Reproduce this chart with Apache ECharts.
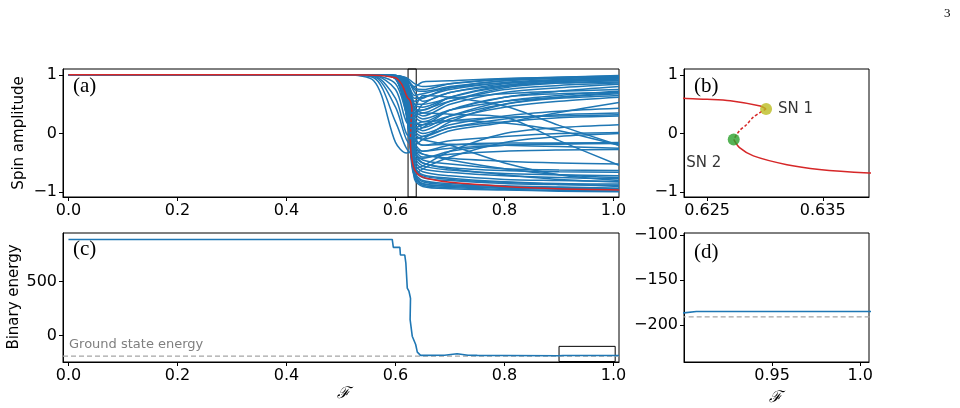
<!DOCTYPE html>
<html lang="en">
<head>
<meta charset="UTF-8">
<title>Spin amplitude / Binary energy</title>
<script src="https://cdn.jsdelivr.net/npm/echarts@6/dist/echarts.min.js"></script>
<style>
  html, body { margin: 0; padding: 0; background: #fff; }
</style>
</head>
<body>
<div id="main" style="width: 960px;height: 408px"></div>
<script>
// sample points (F) shared by every spin curve of panel (a)
var fSpin = [0, 0.5, 0.56, 0.6, 0.62, 0.635, 0.65, 0.7, 0.8, 0.9, 1.01];
// spin amplitude of each spin
var spinCurves = [
    [1,1,1,0.99,0.95,0.85,0.8,0.85,0.92,0.95,0.97],
    [1,1,1,0.99,0.93,0.75,0.72,0.8,0.9,0.94,0.96],
    [1,1,1,0.98,0.9,0.6,0.62,0.75,0.87,0.92,0.95],
    [1,1,1,0.99,0.94,0.7,0.55,0.7,0.85,0.91,0.94],
    [1,1,1,0.98,0.88,0.5,0.45,0.62,0.8,0.88,0.93],
    [1,1,1,0.99,0.92,0.8,0.88,0.9,0.94,0.96,0.98],
    [1,1,1,0.98,0.85,0.45,0.35,0.55,0.78,0.86,0.9],
    [1,1,1,0.99,0.9,0.65,0.68,0.78,0.86,0.89,0.91],
    [1,1,1,0.98,0.87,0.4,0.3,0.5,0.7,0.78,0.84],
    [1,1,1,0.97,0.8,0.3,0.2,0.4,0.62,0.72,0.8],
    [1,1,1,0.98,0.85,0.5,0.5,0.6,0.68,0.72,0.75],
    [1,1,1,0.97,0.78,0.25,0.1,0.3,0.55,0.65,0.72],
    [1,1,1,0.98,0.82,0.35,0.25,0.4,0.55,0.62,0.68],
    [1,1,1,0.97,0.75,0.15,0.05,0.25,0.45,0.55,0.62],
    [1,1,1,0.97,0.7,0.1,0.0,0.15,0.3,0.38,0.43],
    [1,1,1,0.96,0.72,0.05,-0.05,0.1,0.2,0.27,0.3],
    [1,1,1,0.97,0.76,0.2,0.15,0.22,0.28,0.3,0.32],
    [1,1,1,0.97,0.7,0.0,-0.1,0.05,0.19,0.36,0.53],
    [1,1,1,0.96,0.65,-0.05,-0.2,-0.12,-0.05,0.0,0.02],
    [1,1,1,0.97,0.8,0.45,0.65,0.62,0.47,0.14,-0.2],
    [1,1,1,0.97,0.76,0.3,0.35,0.33,0.28,-0.12,-0.54],
    [1,1,1,0.96,0.6,-0.15,-0.3,-0.2,-0.16,-0.16,-0.16],
    [1,1,1,0.96,0.62,-0.1,-0.2,-0.18,-0.2,-0.22,-0.25],
    [1,1,1,0.95,0.55,-0.25,-0.4,-0.35,-0.3,-0.28,-0.27],
    [1,1,1,0.96,0.58,-0.2,-0.35,-0.42,-0.47,-0.5,-0.52],
    [1,1,1,0.95,0.5,-0.4,-0.55,-0.62,-0.68,-0.7,-0.72],
    [1,1,1,0.95,0.45,-0.5,-0.65,-0.72,-0.78,-0.8,-0.82],
    [1,1,1,0.94,0.4,-0.6,-0.75,-0.8,-0.85,-0.87,-0.88],
    [1,1,1,0.95,0.42,-0.65,-0.8,-0.85,-0.89,-0.91,-0.93],
    [1,1,1,0.94,0.35,-0.7,-0.85,-0.9,-0.93,-0.95,-0.96],
    [1,1,1,0.93,0.3,-0.75,-0.88,-0.92,-0.95,-0.97,-0.98],
    [1,1,1,0.95,0.5,-0.45,-0.6,-0.66,-0.72,-0.75,-0.77],
    [1,1,1,0.96,0.55,-0.3,-0.5,-0.58,-0.63,-0.65,-0.66],
    [1,1,1,0.94,0.38,-0.68,-0.82,-0.87,-0.9,-0.92,-0.94],
    [1,1,1,0.95,0.48,-0.55,-0.7,-0.76,-0.82,-0.85,-0.86],
    [1,1,1,0.95,0.45,-0.6,-0.55,-0.3,0.0,0.1,0.15],
    [1,1,1,0.94,0.4,-0.7,-0.6,-0.4,-0.15,-0.05,0.0],
    [1,1,1,0.96,0.6,-0.2,-0.1,0.2,0.5,0.62,0.7],
    [1,1,1,0.97,0.75,0.3,0.5,0.7,0.82,0.86,0.88],
    [1,1,1,0.96,0.65,-0.3,-0.45,-0.52,-0.6,-0.62,-0.63],
    [1,1,1,0.99,0.93,0.78,0.75,0.85,0.93,0.96,0.99],
    [1,1,1,0.98,0.9,0.55,0.6,0.78,0.9,0.95,0.97],
    [1,1,1,0.98,0.86,0.42,0.4,0.62,0.82,0.9,0.94],
    [1,1,1,0.94,0.36,-0.72,-0.86,-0.89,-0.92,-0.93,-0.94],
    [1,1,1,0.93,0.32,-0.78,-0.9,-0.94,-0.96,-0.98,-0.99],
    [1,1,1,0.95,0.44,-0.58,-0.72,-0.78,-0.83,-0.86,-0.9],
    [1,1,1,0.97,0.8,0.35,0.4,0.55,0.75,0.82,0.86],
    [1,1,1,0.96,0.66,0.05,0.1,0.4,0.62,0.68,0.7],
    [1,1,1,0.95,0.5,-0.35,-0.42,-0.3,-0.2,-0.18,-0.17],
    [1,1,1,0.96,0.7,0.15,0.2,0.22,0.18,0.05,-0.2],
    // early droppers
    [1,1,0.9,-0.15,-0.33,-0.3,-0.35,-0.45,-0.6,-0.7,-0.75],
    [1,1,0.95,0.2,-0.25,-0.4,-0.5,-0.6,-0.7,-0.78,-0.82],
    [1,1,0.97,0.45,-0.1,-0.25,-0.3,-0.25,-0.2,-0.17,-0.15],
    [1,1,0.98,0.6,0.0,-0.1,-0.05,0.1,0.25,0.32,0.35],
    [1,1,0.99,0.75,0.2,0.1,0.15,0.3,0.5,0.6,0.65],
    [1,1,0.99,0.85,0.35,0.0,-0.1,-0.2,-0.5,-0.7,-0.8]
];

// red tracked spin: stable upper branch, unstable (dashed) part, lower branch
var redUpperF = [0, 0.5, 0.56, 0.6, 0.61, 0.615, 0.62, 0.623, 0.625, 0.627, 0.6296, 0.6301];
var redUpperY = [1, 1, 0.995, 0.95, 0.86, 0.77, 0.65, 0.6, 0.585, 0.56, 0.47, 0.42];
var redMidF = [0.6301, 0.629, 0.6284, 0.6278, 0.6273];
var redMidY = [0.42, 0.28, 0.15, 0.05, -0.1];
var redLowerF = [0.6273, 0.6278, 0.629, 0.6319, 0.6347, 0.639, 0.645, 0.66, 0.7, 0.8, 0.9, 1.01];
var redLowerY = [-0.1, -0.24, -0.38, -0.53, -0.61, -0.67, -0.72, -0.77, -0.83, -0.9, -0.94, -0.96];

var sn1 = [0.6301, 0.42];
var sn2 = [0.6273, -0.1];

// binary energy, panels (c) and (d)
var fEnergy = [0, 0.594, 0.596, 0.608, 0.609, 0.617, 0.619, 0.6216, 0.6246, 0.626, 0.6275, 0.6265, 0.6268, 0.6307, 0.637, 0.64, 0.646, 0.69, 0.713, 0.733, 0.75, 0.8, 0.9, 0.907, 1.01];
var energy = [890, 890, 817, 817, 746, 746, 670, 439, 411, 380, 345, 330, 147, -6, -83, -154, -184, -182, -169, -182, -184, -185, -186.5, -185, -185];
var groundEnergy = -191;

// ticks
var xTicksA = [0, 0.2, 0.4, 0.6, 0.8, 1.0];
var xLabelsA = ['0.0', '0.2', '0.4', '0.6', '0.8', '1.0'];
var yTicksA = [-1, 0, 1];
var yLabelsA = ['\u22121', '0', '1'];
var xTicksB = [0.625, 0.635];
var xLabelsB = ['0.625', '0.635'];
var yTicksC = [0, 500];
var yLabelsC = ['0', '500'];
var xTicksD = [0.95, 1.0];
var xLabelsD = ['0.95', '1.0'];
var yTicksD = [-200, -150, -100];
var yLabelsD = ['\u2212200', '\u2212150', '\u2212100'];

var BLUE = '#1f77b4', RED = '#d62728';
var FONT = 'DejaVu Sans';

function zip(xs, ys) {
    return xs.map(function (x, i) { return [x, ys[i]]; });
}

function axis(grid, min, max, ticks, labels) {
    return {
        type: 'value', gridIndex: grid, min: min, max: max,
        axisLine: { show: true, onZero: false, lineStyle: { color: '#000', width: 1 } },
        axisTick: { show: true, inside: false, length: 4, customValues: ticks, lineStyle: { color: '#000', width: 1 } },
        axisLabel: {
            customValues: ticks, margin: 6, color: '#000', fontFamily: FONT, fontSize: 16,
            formatter: function (v) {
                for (var i = 0; i < ticks.length; i++) if (Math.abs(ticks[i] - v) < 1e-9) return labels[i];
                return '';
            }
        },
        splitLine: { show: false }
    };
}

var grids = [
    { left: 63, top: 69, width: 556, height: 128 },
    { left: 684, top: 69, width: 185, height: 128 },
    { left: 63, top: 233, width: 556, height: 129 },
    { left: 684, top: 233, width: 185, height: 129 }
].map(function (g) {
    g.show = true; g.borderColor = '#000'; g.borderWidth = 1; g.backgroundColor = 'transparent';
    return g;
});

var series = [];
spinCurves.forEach(function (row) {
    series.push({
        type: 'line', xAxisIndex: 0, yAxisIndex: 0, data: zip(fSpin, row),
        smooth: 0.3, showSymbol: false, silent: true,
        lineStyle: { color: BLUE, width: 1.5 }
    });
});

function redSeries(ax) {
    return [
        { type: 'line', xAxisIndex: ax, yAxisIndex: ax, data: zip(redUpperF, redUpperY), smooth: 0.3, showSymbol: false, z: 5,
          lineStyle: { color: RED, width: 1.5 } },
        { type: 'line', xAxisIndex: ax, yAxisIndex: ax, data: zip(redMidF, redMidY), smooth: 0.3, showSymbol: false, z: 5,
          lineStyle: { color: RED, width: 1.5, type: [3, 2] } },
        { type: 'line', xAxisIndex: ax, yAxisIndex: ax, data: zip(redLowerF, redLowerY), smooth: 0.3, showSymbol: false, z: 5,
          lineStyle: { color: RED, width: 1.5 } }
    ];
}
series = series.concat(redSeries(0), redSeries(1));

// zoom window of (a)
series.push({
    type: 'line', xAxisIndex: 0, yAxisIndex: 0, data: [], z: 6,
    markArea: { silent: true, itemStyle: { color: 'rgba(0,0,0,0)', borderColor: '#000', borderWidth: 1 },
        data: [[{ xAxis: 0.623 }, { xAxis: 0.638 }]] }
});

// saddle-node points in (b)
series.push({
    type: 'scatter', xAxisIndex: 1, yAxisIndex: 1, symbolSize: 12, z: 7,
    data: [
        { value: sn1, itemStyle: { color: '#bcbd22' },
          label: { show: true, formatter: 'SN 1', position: 'right', distance: 6, color: '#000', fontFamily: FONT, fontSize: 15 } },
        { value: sn2, itemStyle: { color: '#2ca02c' },
          label: { show: true, formatter: 'SN 2', position: 'bottom', offset: [-30, 5], color: '#000', fontFamily: FONT, fontSize: 15 } }
    ]
});

// energy (c) and (d)
[2, 3].forEach(function (ax) {
    series.push({
        type: 'line', xAxisIndex: ax, yAxisIndex: ax, data: zip(fEnergy, energy),
        showSymbol: false, z: 4, lineStyle: { color: BLUE, width: 1.6 }
    });
    series.push({
        type: 'line', xAxisIndex: ax, yAxisIndex: ax, data: [[-0.01, groundEnergy], [1.01, groundEnergy]],
        showSymbol: false, z: 3, lineStyle: { color: '#a5a5a5', width: 1.2, type: [5, 3] },
        markArea: ax === 2 ? { silent: true, itemStyle: { color: 'rgba(0,0,0,0)', borderColor: '#000', borderWidth: 1 },
            data: [[{ coord: [0.9, -241] }, { coord: [1.003, -100] }]] } : undefined
    });
});

var texts = [
    { x: 73, y: 76, t: '(a)', font: '21px "Liberation Serif", serif' },
    { x: 694, y: 76, t: '(b)', font: '21px "Liberation Serif", serif' },
    { x: 73, y: 239, t: '(c)', font: '21px "Liberation Serif", serif' },
    { x: 694, y: 242, t: '(d)', font: '21px "Liberation Serif", serif' },
    { x: 69, y: 338, t: 'Ground state energy', font: '13px "DejaVu Sans"', fill: '#7f7f7f' },
    { x: 337, y: 386, t: '\u2131', font: 'italic 16px "DejaVu Serif", serif' },
    { x: 769, y: 390, t: '\u2131', font: 'italic 16px "DejaVu Serif", serif' },
    { x: 944, y: 7, t: '3', font: '13px "Liberation Serif", serif' }
];
var graphic = texts.map(function (d) {
    return { type: 'text', left: d.x, top: d.y, silent: true,
        style: { text: d.t, font: d.font, fill: d.fill || '#000' } };
});
graphic.push({ type: 'text', x: 19, y: 133, rotation: Math.PI / 2, silent: true,
    style: { text: 'Spin amplitude', font: '15px "DejaVu Sans"', fill: '#000', align: 'center', verticalAlign: 'middle' } });
graphic.push({ type: 'text', x: 14, y: 297, rotation: Math.PI / 2, silent: true,
    style: { text: 'Binary energy', font: '15px "DejaVu Sans"', fill: '#000', align: 'center', verticalAlign: 'middle' } });

var option = {
    animation: false,
    backgroundColor: '#fff',
    grid: grids,
    xAxis: [
        axis(0, -0.01, 1.01, xTicksA, xLabelsA),
        axis(1, 0.623, 0.639, xTicksB, xLabelsB),
        axis(2, -0.01, 1.01, xTicksA, xLabelsA),
        axis(3, 0.9, 1.005, xTicksD, xLabelsD)
    ],
    yAxis: [
        axis(0, -1.08, 1.1, yTicksA, yLabelsA),
        axis(1, -1.08, 1.1, yTicksA, yLabelsA),
        axis(2, -245, 950, yTicksC, yLabelsC),
        axis(3, -241, -98, yTicksD, yLabelsD)
    ],
    series: series,
    graphic: graphic
};

var myChart = echarts.init(document.getElementById('main'));
myChart.setOption(option);
</script>
</body>
</html>
